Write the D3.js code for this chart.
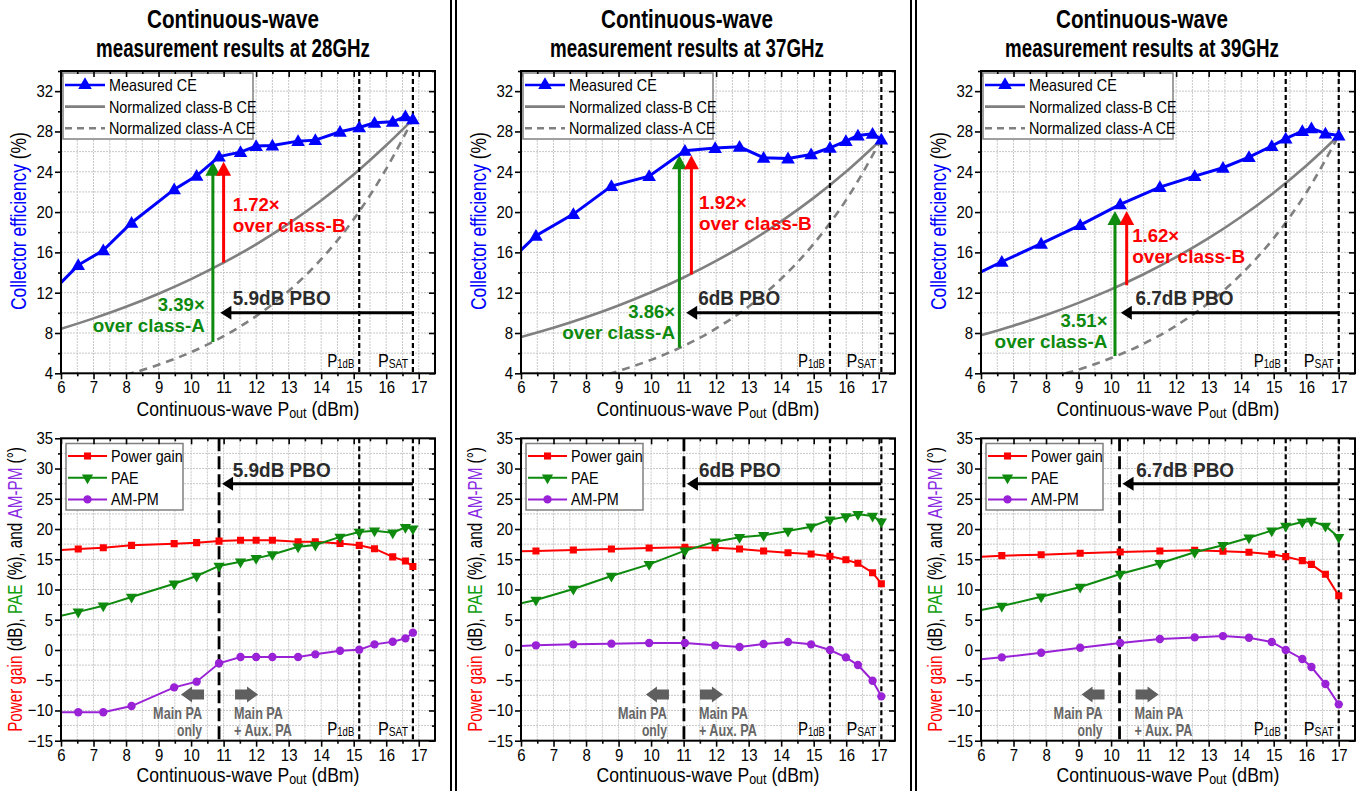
<!DOCTYPE html>
<html><head><meta charset="utf-8">
<script src="https://cdn.jsdelivr.net/npm/d3@7"></script>
<style>
body{margin:0;background:#fff}
svg{display:block}
text{font-family:"Liberation Sans",Arial,Helvetica,sans-serif}
</style>
</head><body>
<svg id="c" width="1361" height="791"></svg>
<script>
// ---------------- DATA ----------------
const freqs = ["28GHz", "37GHz", "39GHz"];
const xMajor = [6,7,8,9,10,11,12,13,14,15,16,17];

// 28 GHz
const pout28 = [6, 6.53, 7.3, 8.17, 9.48, 10.17, 10.86, 11.52, 12.0, 12.5, 13.29, 13.82, 14.58, 15.17, 15.64, 16.2, 16.59, 16.82];
const ce28   = [13.0, 14.74, 16.2, 18.94, 22.25, 23.6, 25.5, 25.95, 26.55, 26.6, 27.04, 27.14, 27.97, 28.4, 28.86, 28.96, 29.49, 29.2];
const gain28 = [16.53, 16.7, 16.9, 17.3, 17.58, 17.75, 18.0, 18.13, 18.13, 18.13, 17.9, 17.9, 17.6, 17.3, 16.75, 15.4, 14.7, 13.8];
const pae28  = [5.67, 6.3, 7.3, 8.76, 10.96, 12.23, 13.9, 14.6, 15.15, 15.8, 17.08, 17.36, 18.7, 19.5, 19.73, 19.4, 20.28, 20.06];
const ampm28 = [-10.3, -10.3, -10.3, -9.27, -6.18, -5.24, -2.2, -1.16, -1.16, -1.16, -1.16, -0.72, -0.12, 0.05, 0.93, 1.37, 1.92, 2.86];
const classBx28 = [6, 7, 8, 9, 10, 11, 12, 13, 14, 15, 16, 16.82];
const classB28  = [8.41, 9.45, 10.6, 11.9, 13.35, 14.98, 16.8, 18.85, 21.15, 23.73, 26.63, 29.2];
const classAx28 = [8, 9, 10, 11, 12, 13, 14, 15, 16, 16.82];
const classA28  = [3.85, 4.85, 6.1, 7.68, 9.67, 12.17, 15.32, 19.29, 24.29, 29.2];

// 37 GHz
const pout37 = [6, 6.46, 7.61, 8.78, 9.94, 11.04, 11.97, 12.72, 13.46, 14.21, 14.92, 15.5, 15.99, 16.36, 16.81, 17.08];
const ce37   = [16.23, 17.65, 19.8, 22.58, 23.57, 26.08, 26.35, 26.48, 25.39, 25.32, 25.72, 26.38, 27.04, 27.6, 27.77, 27.2];
const gain37 = [16.31, 16.37, 16.53, 16.7, 16.86, 16.97, 16.92, 16.7, 16.37, 16.09, 15.87, 15.49, 14.93, 14.33, 12.78, 10.96];
const pae37  = [7.71, 8.26, 10.08, 12.23, 14.16, 16.42, 17.91, 18.63, 18.96, 19.67, 20.39, 21.55, 22.05, 22.43, 22.16, 21.22];
const ampm37 = [0.66, 0.77, 0.93, 1.04, 1.15, 1.15, 0.77, 0.49, 0.99, 1.32, 0.93, 0.0, -1.22, -2.49, -5.08, -7.67];
const classBx37 = [6, 7, 8, 9, 10, 11, 12, 13, 14, 15, 16, 17.08];
const classB37  = [7.6, 8.52, 9.56, 10.73, 12.04, 13.51, 15.16, 17.0, 19.08, 21.41, 24.02, 27.2];
const classAx37 = [8.7, 9, 10, 11, 12, 13, 14, 15, 16, 17.08];
const classA37  = [3.92, 4.23, 5.33, 6.71, 8.45, 10.63, 13.38, 16.85, 21.21, 27.2];

// 39 GHz
const pout39 = [6, 6.64, 7.85, 9.05, 10.28, 11.5, 12.57, 13.44, 14.24, 14.94, 15.37, 15.88, 16.16, 16.59, 17.0];
const ce39   = [14.05, 15.07, 16.86, 18.71, 20.76, 22.48, 23.57, 24.4, 25.45, 26.55, 27.3, 28.03, 28.3, 27.8, 27.6];
const gain39 = [15.43, 15.6, 15.76, 15.98, 16.2, 16.37, 16.48, 16.31, 16.15, 15.82, 15.43, 14.77, 14.16, 12.51, 8.98];
const pae39  = [6.61, 7.27, 8.81, 10.41, 12.56, 14.33, 16.15, 17.31, 18.57, 19.73, 20.5, 21.16, 21.33, 20.5, 18.63];
const ampm39 = [-1.55, -1.22, -0.45, 0.38, 1.15, 1.81, 2.08, 2.3, 2.03, 1.32, 0.0, -1.49, -2.82, -5.63, -8.99];
const classBx39 = [6, 7, 8, 9, 10, 11, 12, 13, 14, 15, 16, 17];
const classB39  = [7.78, 8.73, 9.79, 10.99, 12.33, 13.83, 15.52, 17.41, 19.54, 21.92, 24.6, 27.6];
const classAx39 = [8.6, 9, 10, 11, 12, 13, 14, 15, 16, 17];
const classA39  = [4.0, 4.37, 5.51, 6.93, 8.73, 10.99, 13.83, 17.41, 21.92, 27.6];

// annotation values per frequency
const p1dB   = [15.17, 15.5, 15.37];
const psat   = [16.82, 17.08, 17.0];
const pboTxt = ["5.9dB PBO", "6dB PBO", "6.7dB PBO"];
const pboTip = [10.9, 11.08, 10.3];
const mainPA = [10.86, 11.01, 10.26];
const ratioB = ["1.72×", "1.92×", "1.62×"];
const ratioA = ["3.39×", "3.86×", "3.51×"];
const arrowA = [[10.67, 7.1, 25.0], [10.87, 6.56, 25.65], [10.12, 5.72, 20.1]];
const arrowB = [[11.0, 15.0, 25.0], [11.24, 13.8, 25.65], [10.48, 12.73, 20.1]];

// ---------------- LAYOUT ----------------
const svg = d3.select("#c");
const LEFTS = [61, 521, 981], W = 374;
const TITLEX = [233, 687, 1142];
const TOP_T = 71, TOP_B = 373.3, BOT_T = 438.3, BOT_B = 740.7;
const BLUE = "#0000ff", GRAY = "#808080", RED = "#ff0000", GREEN = "#0e8a0e", PURPLE = "#9a22d6", DARK = "#2b2b2b";

// text drawn at origin then compressed horizontally (narrow font look) via transform
function addText(g, x, y, parts, o = {}) {
  const t = g.append("text").attr("x", 0).attr("y", 0)
    .attr("font-size", o.size || 16)
    .attr("font-weight", o.bold ? "bold" : null)
    .attr("text-anchor", o.anchor || "start")
    .attr("fill", o.color || "#000");
  if (typeof parts === "string") parts = [[parts]];
  parts.forEach(p => {
    const s = t.append("tspan").text(p[0]);
    if (p[1]) s.attr("fill", p[1]);
    if (p[2]) s.attr("font-size", p[2]);
    if (p[3]) s.attr("dy", p[3]);
  });
  const nat = t.node().getComputedTextLength();
  const k = o.len ? o.len / nat : (o.k || 0.88);
  t.attr("transform", `translate(${x},${y})${o.rotate ? " rotate(-90)" : ""} scale(${k},1)`);
  return t;
}

function grid(g, x, y, xs, ys) {
  const [L, R] = x.range(), [B, T] = y.range();
  g.append("g").selectAll("line").data(xs).join("line")
    .attr("x1", d => x(d)).attr("x2", d => x(d)).attr("y1", T).attr("y2", B)
    .attr("stroke", "#c8c8c8").attr("stroke-width", 1).attr("stroke-dasharray", "2,1");
  g.append("g").selectAll("line").data(ys).join("line")
    .attr("y1", d => y(d)).attr("y2", d => y(d)).attr("x1", L).attr("x2", R)
    .attr("stroke", "#c8c8c8").attr("stroke-width", 1).attr("stroke-dasharray", "2,1");
}

function styleAxis(a) {
  a.select(".domain").remove();
  a.selectAll("line").attr("stroke", "#000").attr("stroke-width", 1.6);
  a.attr("font-family", null).attr("font-size", 17);
  a.selectAll("text").attr("fill", "#000").attr("transform", "scale(0.88,1)");
}

function axes(g, x, y, yMaj, yMin, fmtY) {
  const [L, R] = x.range(), [B, T] = y.range();
  const xMinor = d3.range(6.5, 17.5, 1);
  const none = () => "";
  styleAxis(g.append("g").attr("transform", `translate(0,${B})`)
    .call(d3.axisBottom(x).tickValues(xMajor).tickSize(6).tickPadding(2).tickFormat(d3.format("d"))));
  styleAxis(g.append("g").attr("transform", `translate(0,${B})`)
    .call(d3.axisBottom(x).tickValues(xMinor).tickSize(3).tickFormat(none)));
  styleAxis(g.append("g").attr("transform", `translate(0,${T})`)
    .call(d3.axisTop(x).tickValues(xMajor).tickSize(-6).tickFormat(none)));
  styleAxis(g.append("g").attr("transform", `translate(0,${T})`)
    .call(d3.axisTop(x).tickValues(xMinor).tickSize(-3).tickFormat(none)));
  styleAxis(g.append("g").attr("transform", `translate(${L},0)`)
    .call(d3.axisLeft(y).tickValues(yMaj).tickSize(6).tickPadding(3).tickFormat(fmtY)));
  styleAxis(g.append("g").attr("transform", `translate(${L},0)`)
    .call(d3.axisLeft(y).tickValues(yMin).tickSize(3).tickFormat(none)));
  styleAxis(g.append("g").attr("transform", `translate(${R},0)`)
    .call(d3.axisRight(y).tickValues(yMaj).tickSize(-6).tickFormat(none)));
  styleAxis(g.append("g").attr("transform", `translate(${R},0)`)
    .call(d3.axisRight(y).tickValues(yMin).tickSize(-3).tickFormat(none)));
  g.append("rect").attr("x", L).attr("y", T).attr("width", R - L).attr("height", B - T)
    .attr("fill", "none").attr("stroke", "#000").attr("stroke-width", 2);
}

function xTitle(g, cx, y) {
  addText(g, cx, y, [["Continuous-wave P"], ["out", null, 15, 2], [" (dBm)", null, null, -2]],
    { size: 21, anchor: "middle", len: 223 });
}

function pLabel(g, xr, y, sub, len) {
  addText(g, xr, y, [["P"], [sub, null, 12, 1]], { size: 19, anchor: "end", len: len });
}

function vArrow(g, xp, yb, yt, color) {
  g.append("line").attr("x1", xp).attr("x2", xp).attr("y1", yb).attr("y2", yt + 12)
    .attr("stroke", color).attr("stroke-width", 3);
  g.append("path").attr("d", `M${xp},${yt} L${xp - 7.5},${yt + 14} L${xp + 7.5},${yt + 14} Z`).attr("fill", color);
}

function hArrow(g, x1, xtip, yp) {
  g.append("line").attr("x1", x1).attr("x2", xtip + 9).attr("y1", yp).attr("y2", yp)
    .attr("stroke", "#000").attr("stroke-width", 3);
  g.append("path").attr("d", `M${xtip},${yp} L${xtip + 11},${yp - 7} L${xtip + 11},${yp + 7} Z`).attr("fill", "#000");
}

function vDash(g, xp, T, B, dash, w) {
  g.append("line").attr("x1", xp).attr("x2", xp).attr("y1", T).attr("y2", B)
    .attr("stroke", "#000").attr("stroke-width", w).attr("stroke-dasharray", dash);
}

const sym = (type, size) => d3.symbol().type(type).size(size)();

// ---------------- TOP PANELS ----------------
const topData = [
  { pout: pout28, ce: ce28, bx: classBx28, b: classB28, ax: classAx28, a: classA28 },
  { pout: pout37, ce: ce37, bx: classBx37, b: classB37, ax: classAx37, a: classA37 },
  { pout: pout39, ce: ce39, bx: classBx39, b: classB39, ax: classAx39, a: classA39 }
];
const botData = [
  { pout: pout28, gain: gain28, pae: pae28, ampm: ampm28 },
  { pout: pout37, gain: gain37, pae: pae37, ampm: ampm37 },
  { pout: pout39, gain: gain39, pae: pae39, ampm: ampm39 }
];
// text placements (data coords: x, centre of the two-line block)
const tB  = [[11.28, 19.68], [11.47, 19.95], [10.65, 16.65]];
const tA  = [[10.42, 9.78], [10.74, 9.1], [9.89, 8.15]];
const tP  = [11.28, 11.45, 10.75];
const lenB = [[47, 113], [48, 113], [47, 113]];
const lenA = [[47, 112], [47, 113], [47, 113]];
const lenP = [98, 82, 98];
const GAP = 21;

freqs.forEach((f, i) => {
  const L = LEFTS[i], R = L + W;
  const x = d3.scaleLinear([6, 17.5], [L, R]);
  const y = d3.scaleLinear([4, 34], [TOP_B, TOP_T]);
  const g = svg.append("g");
  const d = topData[i];

  // title
  addText(g, TITLEX[i], 28, "Continuous-wave", { size: 26.5, bold: true, anchor: "middle", len: 172 });
  addText(g, TITLEX[i], 57, "measurement results at " + f, { size: 26.5, bold: true, anchor: "middle", len: 274 });

  grid(g, x, y, d3.range(6.5, 17.5, 0.5), d3.range(6, 34, 2));

  const clipId = "ct" + i;
  g.append("clipPath").attr("id", clipId).append("rect")
    .attr("x", L).attr("y", TOP_T).attr("width", W).attr("height", TOP_B - TOP_T);
  const pg = g.append("g").attr("clip-path", `url(#${clipId})`);

  const curve = d3.line().x(v => x(v[0])).y(v => y(v[1])).curve(d3.curveMonotoneX);
  pg.append("path").attr("d", curve(d3.zip(d.bx, d.b))).attr("fill", "none")
    .attr("stroke", GRAY).attr("stroke-width", 2.6);
  pg.append("path").attr("d", curve(d3.zip(d.ax, d.a))).attr("fill", "none")
    .attr("stroke", GRAY).attr("stroke-width", 2.6).attr("stroke-dasharray", "8,6");

  vDash(pg, x(p1dB[i]), TOP_T, TOP_B, "5,3", 2.2);
  vDash(pg, x(psat[i]), TOP_T, TOP_B, "5,3", 2.2);

  // arrows
  vArrow(pg, x(arrowA[i][0]), y(arrowA[i][1]), y(arrowA[i][2]), GREEN);
  vArrow(pg, x(arrowB[i][0]), y(arrowB[i][1]), y(arrowB[i][2]), RED);
  hArrow(pg, x(psat[i]), x(pboTip[i]), y(10));

  // measured CE
  const ln = d3.line().x(v => x(v[0])).y(v => y(v[1]));
  const pts = d3.zip(d.pout, d.ce);
  pg.append("path").attr("d", ln(pts)).attr("fill", "none").attr("stroke", BLUE).attr("stroke-width", 3);
  pg.selectAll(".m").data(pts.filter(p => p[0] > 6)).join("path")
    .attr("transform", p => `translate(${x(p[0])},${y(p[1]) + 1})`)
    .attr("d", sym(d3.symbolTriangle, 80)).attr("fill", BLUE);

  // texts
  const cb = y(tB[i][1]), ca = y(tA[i][1]);
  addText(g, x(tB[i][0]), cb - GAP / 2 + 6.5, ratioB[i], { size: 18.5, bold: true, color: RED, len: lenB[i][0] });
  addText(g, x(tB[i][0]), cb + GAP / 2 + 6.5, "over class-B", { size: 18.5, bold: true, color: RED, len: lenB[i][1] });
  addText(g, x(tA[i][0]), ca - GAP / 2 + 6.5, ratioA[i], { size: 18.5, bold: true, color: GREEN, anchor: "end", len: lenA[i][0] });
  addText(g, x(tA[i][0]), ca + GAP / 2 + 6.5, "over class-A", { size: 18.5, bold: true, color: GREEN, anchor: "end", len: lenA[i][1] });
  addText(g, x(tP[i]), y(11.5) + 7, pboTxt[i], { size: 21, bold: true, color: DARK, len: lenP[i] });

  pLabel(g, x(p1dB[i]) - 5, TOP_B - 6, "1dB", 27);
  pLabel(g, x(psat[i]) - 5, TOP_B - 6, "SAT", 30);

  // legend
  const lg = g.append("g");
  lg.append("rect").attr("x", L + 2).attr("y", 73).attr("width", 190).attr("height", 66)
    .attr("fill", "#fff").attr("stroke", "#808080").attr("stroke-width", 1.5);
  const items = [
    { t: "Measured CE", c: BLUE, dash: null, m: true },
    { t: "Normalized class-B CE", c: GRAY, dash: null },
    { t: "Normalized class-A CE", c: GRAY, dash: "7,5" }
  ];
  items.forEach((it, k) => {
    const yy = 85 + k * 21.6;
    lg.append("line").attr("x1", L + 4).attr("x2", L + 44).attr("y1", yy).attr("y2", yy)
      .attr("stroke", it.c).attr("stroke-width", 2.6).attr("stroke-dasharray", it.dash);
    if (it.m) lg.append("path").attr("transform", `translate(${L + 24},${yy})`)
      .attr("d", sym(d3.symbolTriangle, 80)).attr("fill", BLUE);
    addText(lg, L + 48, yy + 6, it.t, { size: 16.5, k: 0.87 });
  });

  axes(g, x, y, d3.range(4, 33, 4), d3.range(6, 35, 4), d3.format("d"));
  xTitle(g, (L + R) / 2, 416);
  addText(g, L - 35, (TOP_T + TOP_B) / 2 - 1, [["Collector efficiency", BLUE], [" (%)"]],
    { size: 22, anchor: "middle", rotate: true, len: 178 });
});

// ---------------- BOTTOM PANELS ----------------
const tPb = [11.28, 11.47, 10.77];
freqs.forEach((f, i) => {
  const L = LEFTS[i], R = L + W;
  const x = d3.scaleLinear([6, 17.5], [L, R]);
  const y = d3.scaleLinear([-15, 35], [BOT_B, BOT_T]);
  const g = svg.append("g");
  const d = botData[i];

  grid(g, x, y, d3.range(6.5, 17.5, 0.5), d3.range(-12.5, 35, 2.5));

  const clipId = "cb" + i;
  g.append("clipPath").attr("id", clipId).append("rect")
    .attr("x", L).attr("y", BOT_T).attr("width", W).attr("height", BOT_B - BOT_T);
  const pg = g.append("g").attr("clip-path", `url(#${clipId})`);

  vDash(pg, x(mainPA[i]), BOT_T, BOT_B, "13,5", 2.8);
  vDash(pg, x(p1dB[i]), BOT_T, BOT_B, "5,3", 2.2);
  vDash(pg, x(psat[i]), BOT_T, BOT_B, "5,3", 2.2);

  hArrow(pg, x(psat[i]), x(mainPA[i]) + 3, y(27.5));

  const ln = d3.line().x(v => x(v[0])).y(v => y(v[1]));
  const series = [
    { v: d.gain, c: RED, s: d3.symbolSquare, size: 50, rot: 0 },
    { v: d.pae, c: GREEN, s: d3.symbolTriangle, size: 55, rot: 180 },
    { v: d.ampm, c: PURPLE, s: d3.symbolCircle, size: 55, rot: 0 }
  ];
  series.forEach(s => {
    const pts = d3.zip(d.pout, s.v);
    pg.append("path").attr("d", ln(pts)).attr("fill", "none").attr("stroke", s.c).attr("stroke-width", 2);
    pg.selectAll(null).data(pts.filter(p => p[0] > 6)).join("path")
      .attr("transform", p => `translate(${x(p[0])},${y(p[1])}) rotate(${s.rot})`)
      .attr("d", sym(s.s, s.size)).attr("fill", s.c);
  });

  // gray block arrows & texts
  const mx = x(mainPA[i]), ay = 694.5;
  g.append("path").attr("fill", "#5f5f5f")
    .attr("d", `M${mx - 38},${ay} L${mx - 27},${ay - 8} L${mx - 27},${ay - 5} L${mx - 15},${ay - 5} L${mx - 15},${ay + 5} L${mx - 27},${ay + 5} L${mx - 27},${ay + 8} Z`);
  g.append("path").attr("fill", "#5f5f5f")
    .attr("d", `M${mx + 39},${ay} L${mx + 28},${ay - 8} L${mx + 28},${ay - 5} L${mx + 16},${ay - 5} L${mx + 16},${ay + 5} L${mx + 28},${ay + 5} L${mx + 28},${ay + 8} Z`);
  addText(g, mx - 17, 719, "Main PA", { size: 16.5, bold: true, color: "#666", anchor: "end", len: 49 });
  addText(g, mx - 17, 736, "only", { size: 16.5, bold: true, color: "#666", anchor: "end", len: 25 });
  addText(g, mx + 15, 719, "Main PA", { size: 16.5, bold: true, color: "#666", len: 49 });
  addText(g, mx + 15, 736, "+ Aux. PA", { size: 16.5, bold: true, color: "#666", len: 58 });

  addText(g, x(tPb[i]), 477, pboTxt[i], { size: 21, bold: true, color: DARK, len: lenP[i] });

  pLabel(g, x(p1dB[i]) - 5, BOT_B - 6, "1dB", 27);
  pLabel(g, x(psat[i]) - 5, BOT_B - 6, "SAT", 30);

  // legend
  const lg = g.append("g");
  lg.append("rect").attr("x", L + 5).attr("y", 443.5).attr("width", 117).attr("height", 66.5)
    .attr("fill", "#fff").attr("stroke", "#808080").attr("stroke-width", 1.5);
  const items = [
    { t: "Power gain", c: RED, s: d3.symbolSquare, size: 50, rot: 0 },
    { t: "PAE", c: GREEN, s: d3.symbolTriangle, size: 55, rot: 180 },
    { t: "AM-PM", c: PURPLE, s: d3.symbolCircle, size: 55, rot: 0 }
  ];
  items.forEach((it, k) => {
    const yy = 456 + k * 21.7;
    lg.append("line").attr("x1", L + 7).attr("x2", L + 46).attr("y1", yy).attr("y2", yy)
      .attr("stroke", it.c).attr("stroke-width", 2);
    lg.append("path").attr("transform", `translate(${L + 26.5},${yy}) rotate(${it.rot})`)
      .attr("d", sym(it.s, it.size)).attr("fill", it.c);
    addText(lg, L + 50, yy + 6, it.t, { size: 16.5, k: 0.87 });
  });

  axes(g, x, y, d3.range(-15, 36, 5), d3.range(-12.5, 35, 5), d3.format("d"));
  xTitle(g, (L + R) / 2, 782);
  addText(g, L - 39, (BOT_T + BOT_B) / 2, [["Power gain", RED], [" (dB), "], ["PAE", "#10a010"], [" (%), and "], ["AM-PM", "#8a2be2"], [" (°)"]],
    { size: 19.5, anchor: "middle", rotate: true, len: 284 });
});

// separators
[451, 456, 911, 916].forEach(xx => {
  svg.append("line").attr("x1", xx).attr("x2", xx).attr("y1", 0).attr("y2", 791)
    .attr("stroke", "#000").attr("stroke-width", 2);
});
</script>
</body></html>
